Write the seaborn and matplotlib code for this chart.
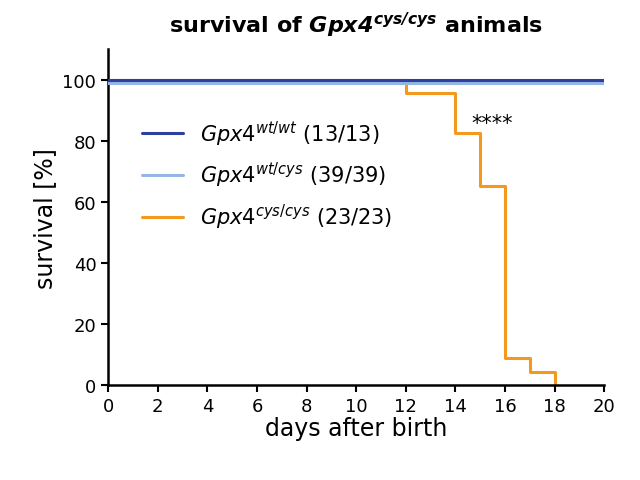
import matplotlib
matplotlib.use("Agg")
import matplotlib.pyplot as plt
import seaborn as sns

days_wt = [0, 20]
surv_wtwt = [100, 100]
surv_wtcys = [99, 99]
days_cys = [0, 12, 14, 15, 16, 17, 18]
surv_cys = [100, 95.7, 82.6, 65.2, 8.7, 4.3, 0]
labels = [r"$\mathit{Gpx4}^{\mathit{wt/wt}}$ (13/13)",
          r"$\mathit{Gpx4}^{\mathit{wt/cys}}$ (39/39)",
          r"$\mathit{Gpx4}^{\mathit{cys/cys}}$ (23/23)"]
colors = ["#2f3f9c", "#93b6e4", "#f39a1e"]

sns.set_style("ticks")
plt.rcParams.update({"mathtext.fontset": "custom",
                     "mathtext.it": "DejaVu Sans:italic",
                     "mathtext.bf": "DejaVu Sans:italic:bold",
                     "mathtext.rm": "DejaVu Sans",
                     "text.color": "black", "axes.labelcolor": "black",
                     "xtick.color": "black", "ytick.color": "black"})
fig = plt.figure(figsize=(6.4, 4.81), dpi=100)
ax = fig.add_axes([0.169, 0.1975, 0.775, 0.698])

sns.lineplot(x=days_cys, y=surv_cys, ax=ax, color=colors[2], lw=2.2, label=labels[2], drawstyle="steps-post", zorder=2)
sns.lineplot(x=days_wt, y=surv_wtcys, ax=ax, color=colors[1], lw=2.2, label=labels[1], drawstyle="steps-post", zorder=3)
sns.lineplot(x=days_wt, y=surv_wtwt, ax=ax, color=colors[0], lw=2.2, label=labels[0], drawstyle="steps-post", zorder=4)

ax.set_xlim(0, 20)
ax.set_ylim(0, 110)
ax.set_xticks(range(0, 21, 2))
ax.set_yticks(range(0, 101, 20))
ax.tick_params(labelsize=13, width=1.5, length=5)
for s in ["left", "bottom"]:
    ax.spines[s].set_linewidth(1.8)
    ax.spines[s].set_color("black")
sns.despine(ax=ax)
ax.set_xlabel("days after birth", fontsize=17, labelpad=1)
ax.set_ylabel("survival [%]", fontsize=17)
ax.set_title(r"survival of $\mathbf{Gpx4^{cys/cys}}$ animals", fontsize=16, fontweight="bold", pad=12)
ax.text(15.5, 84, "****", fontsize=15, ha="center")

h, l = ax.get_legend_handles_labels()
order = [2, 1, 0]
ax.legend([h[i] for i in order], [l[i] for i in order], loc="upper left",
          bbox_to_anchor=(0.03, 0.85), frameon=False, fontsize=15, handlelength=2, labelspacing=0.6)
fig.savefig("out.png", dpi=100)
